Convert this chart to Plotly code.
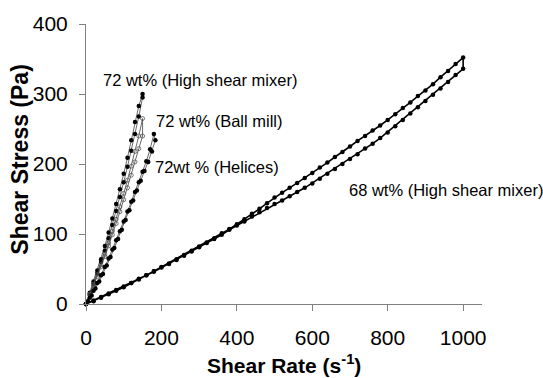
import plotly.graph_objects as go

# 68 wt% (high shear mixer): ramp up then ramp down, shear rate step 20 s^-1
rate_68_up = list(range(0, 1001, 20))
stress_68_up = [0, 5, 10, 15, 20, 25, 30, 36, 41, 47, 53, 58, 64, 70, 76, 82, 88, 94, 101, 107,
                114, 121, 129, 136, 144, 152, 159, 166, 173, 180, 187, 195, 202, 210, 217, 225,
                233, 240, 248, 255, 263, 271, 280, 288, 297, 305, 314, 324, 333, 343, 352]
rate_68_down = list(range(1000, -1, -20))
stress_68_down = [336, 327, 317, 308, 299, 290, 281, 272, 263, 254, 245, 237, 229, 222, 214, 207,
                  200, 193, 186, 179, 172, 166, 160, 154, 148, 143, 137, 131, 125, 118, 112, 106,
                  99, 93, 87, 81, 75, 69, 63, 57, 52, 46, 41, 35, 30, 24, 19, 14, 9, 4, 0]

# 72 wt% (high shear mixer)
rate_72_hsm = [0, 10, 20, 30, 40, 50, 60, 70, 80, 90, 100, 110, 120, 130, 140, 150,
               150, 140, 130, 120, 110, 100, 90, 80, 70, 60, 50, 40, 30, 20, 10, 0]
stress_72_hsm = [0, 16, 32, 48, 64, 83, 102, 122, 143, 164, 186, 209, 234, 260, 283, 300,
                 295, 268, 243, 219, 196, 174, 153, 133, 113, 94, 76, 60, 44, 29, 14, 0]

# 72 wt% (ball mill)
rate_72_bm = [0, 10, 20, 30, 40, 50, 60, 70, 80, 90, 100, 110, 120, 130, 140, 150,
              150, 140, 130, 120, 110, 100, 90, 80, 70, 60, 50, 40, 30, 20, 10, 0]
stress_72_bm = [0, 14, 28, 42, 56, 71, 87, 104, 121, 139, 158, 177, 197, 218, 240, 265,
                240, 222, 203, 184, 166, 149, 132, 115, 99, 83, 68, 53, 39, 26, 13, 0]

# 72 wt% (helices)
rate_72_hel = [0, 10, 20, 30, 40, 50, 60, 70, 80, 90, 100, 110, 120, 130, 140, 150, 160, 170, 180,
               184, 175, 165, 155, 145, 135, 125, 115, 105, 95, 85, 75, 65, 55, 45, 35, 25, 15, 5, 0]
stress_72_hel = [0, 9, 19, 30, 41, 53, 65, 78, 91, 104, 118, 132, 146, 160, 174, 189, 204, 221, 243,
                 234, 218, 203, 190, 176, 162, 148, 134, 120, 106, 93, 80, 67, 55, 43, 32, 22, 12, 4, 0]

x_ticks = [0, 200, 400, 600, 800, 1000]
y_ticks = [0, 100, 200, 300, 400]

FONT = "Liberation Sans, Arial, sans-serif"

fig = go.Figure()

thin_line = dict(color="#444444", width=0.8)

fig.add_trace(go.Scatter(
    x=rate_68_up + rate_68_down, y=stress_68_up + stress_68_down,
    mode="lines+markers", line=dict(color="black", width=1.6),
    marker=dict(symbol="circle", size=4.5, color="black"),
    cliponaxis=False, showlegend=False))

fig.add_trace(go.Scatter(
    x=rate_72_hsm, y=stress_72_hsm, mode="lines+markers", line=thin_line,
    marker=dict(symbol="circle", size=4.5, color="black"),
    cliponaxis=False, showlegend=False))

fig.add_trace(go.Scatter(
    x=rate_72_bm, y=stress_72_bm, mode="lines+markers", line=thin_line,
    marker=dict(symbol="circle-open", size=4, color="#555555", line=dict(width=0.8)),
    cliponaxis=False, showlegend=False))

fig.add_trace(go.Scatter(
    x=rate_72_hel, y=stress_72_hel, mode="lines+markers", line=thin_line,
    marker=dict(symbol="circle", size=4.5, color="black"),
    cliponaxis=False, showlegend=False))

labels = [
    ("72 wt% (High shear mixer)", 40, 320),
    ("72 wt% (Ball mill)", 181, 262),
    ("72wt % (Helices)", 177, 196),
    ("68 wt% (High shear mixer)", 692, 163),
]
for text, lx, ly in labels:
    fig.add_annotation(x=lx, y=ly, text=text, showarrow=False,
                       xanchor="left", yanchor="middle",
                       font=dict(family=FONT, size=16.5, color="black"))

# axis titles
fig.add_annotation(xref="paper", yref="paper", x=0.5, y=-0.215,
                   text="<b>Shear Rate (s<sup>-1</sup>)</b>", showarrow=False,
                   xanchor="center", yanchor="middle",
                   font=dict(family=FONT, size=21, color="black"))
fig.add_annotation(xref="paper", yref="paper", x=-0.1677, y=0.514,
                   text="<b>Shear Stress (Pa)</b>", showarrow=False, textangle=-90,
                   xanchor="center", yanchor="middle",
                   font=dict(family=FONT, size=23, color="black"))

axis_common = dict(showgrid=False, zeroline=False, showline=True, linecolor="#808080",
                   linewidth=1, ticks="outside", ticklen=6, tickcolor="#808080",
                   tickfont=dict(family=FONT, size=21, color="black"))

fig.update_xaxes(range=[0, 1050], tickvals=x_ticks, ticklabelstandoff=9, **axis_common)
fig.update_yaxes(range=[0, 400], tickvals=y_ticks, ticklabelstandoff=7, **axis_common)

fig.update_layout(
    width=543, height=378,
    margin=dict(l=85.5, r=61, t=20, b=74),
    paper_bgcolor="white", plot_bgcolor="white",
)

fig.write_html("out.html")
